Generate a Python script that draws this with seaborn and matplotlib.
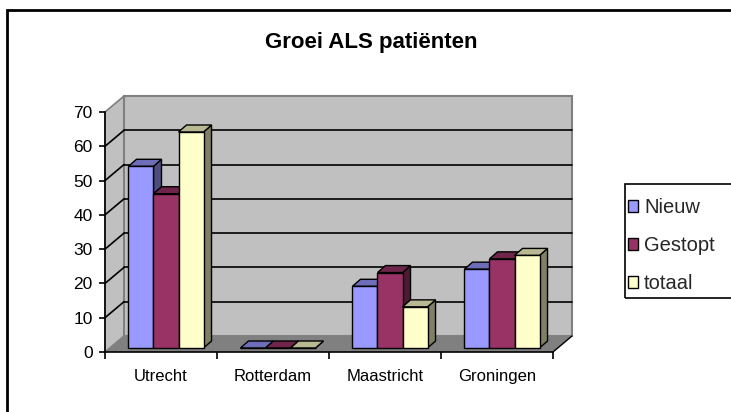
import numpy as np
import pandas as pd
import matplotlib
matplotlib.use("Agg")
import matplotlib.pyplot as plt
from matplotlib.patches import Polygon, Rectangle, Patch
import matplotlib.colors as mcolors
import seaborn as sns

# ---- data ----
steden = ["Utrecht", "Rotterdam", "Maastricht", "Groningen"]
reeksen = ["Nieuw", "Gestopt", "totaal"]
nieuw = [53, 0, 18, 23]
gestopt = [45, 0, 22, 26]
totaal = [63, 0, 12, 27]
y_ticks = [0, 10, 20, 30, 40, 50, 60, 70]
kleuren = ["#9999FF", "#993366", "#FFFFCC"]
titel = "Groei ALS patiënten"

df = pd.DataFrame({
    "stad": steden * 3,
    "reeks": np.repeat(reeksen, len(steden)),
    "waarde": nieuw + gestopt + totaal,
})

sns.set_theme(style="white")
plt.rcParams["font.family"] = ["Liberation Sans", "DejaVu Sans"]

W, H = 731, 412
fig = plt.figure(figsize=(W / 100, H / 100), dpi=100)
fig.patch.set_facecolor("white")

# front face of the 3D box in pixels
AX_L, AX_R, AX_T, AX_B = 105, 553, 112, 352
ax = fig.add_axes([AX_L / W, 1 - AX_B / H, (AX_R - AX_L) / W, (AX_B - AX_T) / H])

sns.barplot(data=df, x="stad", y="waarde", hue="reeks", order=steden,
            hue_order=reeksen, palette=kleuren, saturation=1, width=0.67,
            edgecolor="black", linewidth=1, errorbar=None, legend=False, ax=ax)

xmin, xmax = -0.5, len(steden) - 0.5
ymin, ymax = y_ticks[0], y_ticks[-1]
ax.set_xlim(xmin, xmax)
ax.set_ylim(ymin, ymax)
ax.set_facecolor("none")

sx = (AX_R - AX_L) / (xmax - xmin)   # px per x unit
sy = (AX_B - AX_T) / (ymax - ymin)   # px per y unit
WX, WY = 19 / sx, 16 / sy            # wall depth
BX, BY = 5 / sx, 4 / sy              # bar placement in depth
DX, DY = 8 / sx, 7 / sy              # bar depth

wall_c = "#C0C0C0"
floor_c = "#808080"
edge_c = "#808080"

# walls and floor
ax.add_patch(Polygon([(xmin, ymin), (xmin, ymax), (xmin + WX, ymax + WY), (xmin + WX, ymin + WY)],
                     closed=True, fc=wall_c, ec=edge_c, lw=1.2, clip_on=False, zorder=0.5))
ax.add_patch(Polygon([(xmin + WX, ymin + WY), (xmax + WX, ymin + WY), (xmax + WX, ymax + WY), (xmin + WX, ymax + WY)],
                     closed=True, fc=wall_c, ec=edge_c, lw=1.5, clip_on=False, zorder=0.5))
ax.add_patch(Polygon([(xmin, ymin), (xmax, ymin), (xmax + WX, ymin + WY), (xmin + WX, ymin + WY)],
                     closed=True, fc=floor_c, ec="none", clip_on=False, zorder=0.8))
ax.plot([xmax, xmax + WX], [ymin, ymin + WY], color="black", lw=1, clip_on=False, zorder=0.9)

for t in y_ticks[1:-1]:
    ax.plot([xmin + WX, xmax + WX], [t + WY, t + WY], color="black", lw=1.2, clip_on=False, zorder=0.7)
    ax.plot([xmin, xmin + WX], [t, t + WY], color="black", lw=1.2, clip_on=False, zorder=0.7)

# 3D bars
def shade(c, f):
    r, g, b, a = mcolors.to_rgba(c)
    return (r * f, g * f, b * f, 1)

bars = sorted([p for p in ax.patches if isinstance(p, Rectangle) and p.get_width() < 1],
              key=lambda p: p.get_x())
for k, p in enumerate(bars):
    x, w, h = p.get_x(), p.get_width(), p.get_height()
    fc = p.get_facecolor()
    p.set_x(x + BX)
    p.set_y(BY)
    z = 3 + 0.1 * k
    p.set_zorder(z + 0.05)
    p.set_clip_on(False)
    x0 = x + BX
    top = [(x0, BY + h), (x0 + w, BY + h), (x0 + w + DX, BY + h + DY), (x0 + DX, BY + h + DY)]
    side = [(x0 + w, BY), (x0 + w + DX, BY + DY), (x0 + w + DX, BY + h + DY), (x0 + w, BY + h)]
    ax.add_patch(Polygon(side, closed=True, fc=shade(fc, 0.5), ec="black", lw=1, clip_on=False, zorder=z))
    ax.add_patch(Polygon(top, closed=True, fc=shade(fc, 0.72), ec="black", lw=1, clip_on=False, zorder=z))

# axes styling
for s in ["top", "right"]:
    ax.spines[s].set_visible(False)
for s in ["left", "bottom"]:
    ax.spines[s].set_color("black")
    ax.spines[s].set_linewidth(1.2)
    ax.spines[s].set_zorder(2)

ax.set_yticks(y_ticks)
ax.set_yticklabels([str(v) for v in y_ticks])
ax.tick_params(axis="y", direction="out", length=4, width=1.2, color="black",
               labelsize=12.5, pad=5, left=True, labelcolor="black")
ax.set_xticks(range(len(steden)))
ax.set_xticklabels(steden)
ax.set_xticks(np.arange(xmin, xmax + 0.01, 1), minor=True)
ax.tick_params(axis="x", which="major", length=0, labelsize=12, pad=12, labelcolor="black")
ax.tick_params(axis="x", which="minor", direction="out", length=5, width=1.2, color="black", bottom=True)
ax.set_xlabel("")
ax.set_ylabel("")
ax.grid(False)

# title
fig.text(371 / W, 1 - 48 / H, titel, ha="center", va="baseline",
         fontsize=16, fontweight="bold", color="black")

# legend
handles = [Patch(fc=c, ec="black", lw=1) for c in kleuren]
fig.legend(handles, reeksen, loc="upper left", bbox_to_anchor=(628 / W, 1 - 198 / H),
           frameon=False, fontsize=14.5, handlelength=0.5, handleheight=0.5,
           handletextpad=0.3, labelspacing=0.95, borderaxespad=0, borderpad=0)
fig.add_artist(Rectangle((625 / W, 1 - 298 / H), (760 - 625) / W, (298 - 184) / H,
                         transform=fig.transFigure, fill=False, ec="black", lw=1.2))

# outer chart border
fig.add_artist(Rectangle((7 / W, -0.2), 1.2, 1.2 - 10 / H, transform=fig.transFigure,
                         fill=False, ec="black", lw=2))

fig.savefig("out.png", dpi=100)
